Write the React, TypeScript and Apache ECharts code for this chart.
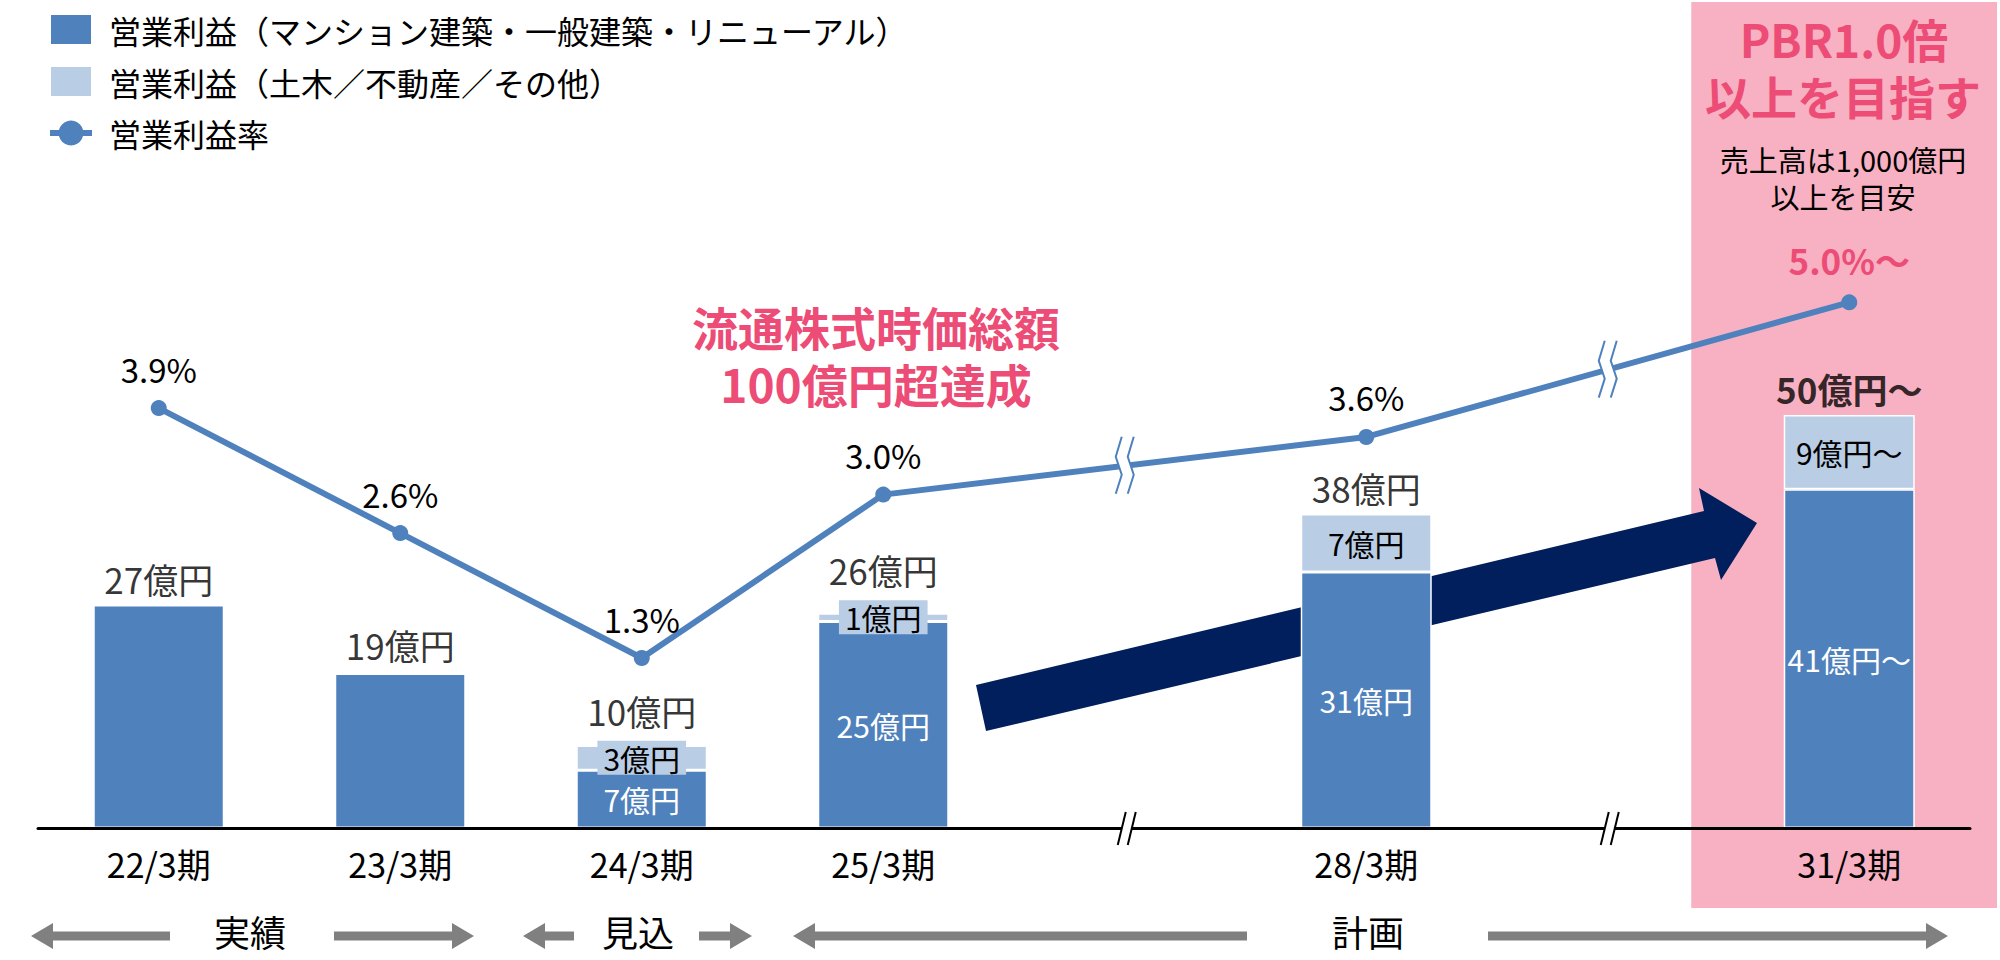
import React, { useEffect, useRef } from 'react';
import * as echarts from 'echarts';

// ---- data ----
const categories = ['22/3期', '23/3期', '24/3期', '25/3期', '', '28/3期', '', '31/3期'];
const profitMain: (number | null)[] = [27, 18.7, 7, 25, null, 31, null, 41];
const profitOther: (number | null)[] = [null, 0.3, 3, 1, null, 7, null, 9];
const marginRate: (number | null)[] = [3.9, 2.6, 1.3, 3.0, null, 3.6, null, 5.0];
const showMainLabel = [false, false, true, true, false, true, false, true];
const targetFlag = [false, false, false, false, false, false, false, true];
const seriesNames = [
  '営業利益（マンション建築・一般建築・リニューアル）',
  '営業利益（土木／不動産／その他）',
  '営業利益率',
];
const periodGroups = ['実績', '見込', '計画'];
const annotationMain = ['流通株式時価総額', '100億円超達成'];
const targetTitle = ['PBR1.0倍', '以上を目指す'];
const targetNote = ['売上高は1,000億円', '以上を目安'];

// ---- styles ----
const FONT = '"Noto Sans CJK JP", "Noto Sans", sans-serif';
const DARK = '#4F81BD';
const LIGHT = '#B9CDE5';
const NAVY = '#001F5C';
const PINK_BG = '#F8B1C2';
const PINK_TXT = '#EC4C75';
const GRAY = '#808080';
const TXT = '#000';

const totals = profitMain.map((v, i) =>
  v == null ? null : Math.round((v + (profitOther[i] ?? 0)) * 10) / 10
);
const suffix = (i: number) => (targetFlag[i] ? '〜' : '');
const totalDistance = [9, 9, 17, 26, 9, 9, 9, 9];

export default function App() {
  const ref = useRef<HTMLDivElement>(null);

  useEffect(() => {
    if (!ref.current) return;
    const chart = echarts.init(ref.current, undefined, { renderer: 'svg' });

    const option: any = {
      animation: false,
      textStyle: { fontFamily: FONT },
      legend: {
        orient: 'vertical',
        left: 47,
        top: 13,
        padding: 0,
        itemWidth: 42,
        itemHeight: 31,
        itemGap: 19,
        lineStyle: { width: 6 },
        data: [
          { name: seriesNames[0], icon: 'rect' },
          { name: seriesNames[1], icon: 'rect' },
          { name: seriesNames[2] },
        ],
        textStyle: { fontSize: 32, color: TXT, fontFamily: FONT, padding: [0, 0, 0, 12] },
      },
      grid: [
        { left: 38, right: 30, top: 2, bottom: 132, outerBoundsMode: 'none' },
        { left: 38, right: 30, top: 14, bottom: 177, outerBoundsMode: 'none' },
      ],
      xAxis: [
        {
          type: 'category',
          gridIndex: 0,
          data: categories,
          z: 3,
          axisLine: { lineStyle: { color: '#000', width: 3 } },
          axisTick: { show: false },
          splitLine: { show: false },
          axisLabel: { interval: 0, fontSize: 34, color: TXT, margin: 18, fontFamily: FONT },
        },
        { type: 'category', gridIndex: 1, data: categories, show: false },
      ],
      yAxis: [
        { type: 'value', gridIndex: 0, min: 0, max: 100, show: false, splitLine: { show: false } },
        { type: 'value', gridIndex: 1, min: 0, max: 8, show: false, splitLine: { show: false } },
      ],
      series: [
        {
          name: seriesNames[0],
          type: 'bar',
          stack: 'profit',
          xAxisIndex: 0,
          yAxisIndex: 0,
          barWidth: 131,
          z: 2,
          itemStyle: { color: DARK, borderColor: '#fff', borderWidth: 1.5 },
          label: {
            position: 'inside',
            color: '#fff',
            fontSize: 30,
            fontFamily: FONT,
            formatter: (p: any) => `${p.value}億円${suffix(p.dataIndex)}`,
          },
          data: profitMain.map((v, i) => ({ value: v, label: { show: showMainLabel[i] } })),
        },
        {
          name: seriesNames[1],
          type: 'bar',
          stack: 'profit',
          xAxisIndex: 0,
          yAxisIndex: 0,
          barWidth: 131,
          z: 2,
          itemStyle: { color: LIGHT, borderColor: '#fff', borderWidth: 1.5 },
          label: {
            position: 'inside',
            color: TXT,
            fontSize: 30,
            fontFamily: FONT,
            backgroundColor: LIGHT,
            padding: [2, 6],
            formatter: (p: any) => `${p.value}億円${suffix(p.dataIndex)}`,
          },
          data: profitOther.map((v) => ({ value: v, label: { show: v != null && v >= 1 } })),
        },
        {
          name: 'total',
          type: 'scatter',
          xAxisIndex: 0,
          yAxisIndex: 0,
          symbolSize: 0,
          silent: true,
          z: 4,
          label: {
            show: true,
            position: 'top',
            distance: 9,
            fontSize: 35,
            color: TXT,
            fontFamily: FONT,
            formatter: (p: any) => `${Math.round(p.value)}億円${suffix(p.dataIndex)}`,
          },
          data: totals.map((v, i) => ({
            value: v,
            label: targetFlag[i]
              ? { fontWeight: 'bold', fontSize: 35, distance: totalDistance[i] }
              : { distance: totalDistance[i] },
          })),
        },
        {
          name: seriesNames[2],
          type: 'line',
          xAxisIndex: 1,
          yAxisIndex: 1,
          connectNulls: true,
          symbol: 'circle',
          symbolSize: 16,
          z: 5,
          lineStyle: { color: DARK, width: 6 },
          itemStyle: { color: DARK },
          label: {
            show: true,
            position: 'top',
            distance: 15,
            fontSize: 33,
            color: TXT,
            fontFamily: FONT,
            formatter: (p: any) => `${Number(p.value).toFixed(1)}%${suffix(p.dataIndex)}`,
          },
          data: marginRate.map((v, i) => ({
            value: v,
            label: targetFlag[i]
              ? { color: PINK_TXT, fontWeight: 'bold', fontSize: 35, distance: 17 }
              : {},
          })),
        },
      ],
    };

    chart.setOption(option);

    // ---- decorations positioned from the chart's own scales ----
    const lineSeriesIndex = 3;
    const pt = (i: number) =>
      chart.convertToPixel({ seriesIndex: lineSeriesIndex }, [i, marginRate[i] as number]) as number[];
    const catX = (i: number) => chart.convertToPixel({ xAxisIndex: 0 }, i) as number;
    const axisY = chart.convertToPixel({ yAxisIndex: 0 }, 0) as number;

    const graphics: any[] = [];

    // pink target panel
    const panelLeft = catX(7) - 158;
    graphics.push({
      type: 'rect',
      z: 0,
      silent: true,
      shape: { x: panelLeft, y: 2, width: 2000 - 3 - panelLeft, height: 906 },
      style: { fill: PINK_BG },
    });

    // navy growth arrow
    graphics.push({
      type: 'polygon',
      z: 1,
      silent: true,
      shape: {
        points: [
          [976, 685],
          [1704, 511],
          [1699, 488],
          [1757, 523],
          [1721, 580],
          [1715, 558],
          [986, 731],
        ],
      },
      style: { fill: NAVY },
    });

    // line breaks
    const lineBreak = (cx: number, cy: number) => {
      const ys = [-29, -9, 9, 28];
      const lx = [-3, -9, -3, -9];
      const rx = [9, 3, 9, 3];
      const L = ys.map((y, k) => [cx + lx[k], cy + y]);
      const R = ys.map((y, k) => [cx + rx[k], cy + y]);
      graphics.push({
        type: 'polygon',
        z: 10,
        silent: true,
        shape: { points: [...L, ...R.slice().reverse()] },
        style: { fill: '#fff' },
      });
      graphics.push({ type: 'polyline', z: 11, silent: true, shape: { points: L }, style: { stroke: DARK, lineWidth: 2, fill: null } });
      graphics.push({ type: 'polyline', z: 11, silent: true, shape: { points: R }, style: { stroke: DARK, lineWidth: 2, fill: null } });
    };
    const p3 = pt(3), p5 = pt(5), p7 = pt(7);
    lineBreak((p3[0] + p5[0]) / 2, (p3[1] + p5[1]) / 2);
    lineBreak((p5[0] + p7[0]) / 2, (p5[1] + p7[1]) / 2);

    // axis breaks
    const axisBreak = (cx: number) => {
      const cy = axisY;
      graphics.push({
        type: 'polygon',
        z: 10,
        silent: true,
        shape: { points: [[cx - 1, cy - 16], [cx + 9, cy - 16], [cx + 1, cy + 17], [cx - 9, cy + 17]] },
        style: { fill: '#fff' },
      });
      graphics.push({ type: 'line', z: 11, silent: true, shape: { x1: cx - 1, y1: cy - 16, x2: cx - 9, y2: cy + 17 }, style: { stroke: '#000', lineWidth: 2 } });
      graphics.push({ type: 'line', z: 11, silent: true, shape: { x1: cx + 9, y1: cy - 16, x2: cx + 1, y2: cy + 17 }, style: { stroke: '#000', lineWidth: 2 } });
    };
    axisBreak(catX(4) + 2);
    axisBreak(catX(6) + 2);

    // texts
    const txt = (x: number, y: number, text: string, size: number, fill: string, weight: string) => ({
      type: 'text',
      z: 12,
      silent: true,
      x,
      y,
      style: {
        text,
        fill,
        fontSize: size,
        fontWeight: weight,
        fontFamily: FONT,
        align: 'center',
        verticalAlign: 'middle',
        textAlign: 'center',
        textVerticalAlign: 'middle',
      },
    });
    graphics.push(txt(876, 326, annotationMain[0], 46, PINK_TXT, 'bold'));
    graphics.push(txt(876, 383, annotationMain[1], 46, PINK_TXT, 'bold'));
    graphics.push(txt(1844, 38, targetTitle[0], 46, PINK_TXT, 'bold'));
    graphics.push(txt(1843, 95, targetTitle[1], 46, PINK_TXT, 'bold'));
    graphics.push(txt(1843, 159, targetNote[0], 29, TXT, 'normal'));
    graphics.push(txt(1843, 196, targetNote[1], 29, TXT, 'normal'));

    // period arrows
    const by = 936;
    const arrow = (tip: number, end: number) => {
      const dir = tip < end ? 1 : -1;
      const hl = 22 * dir, hh = 13, sh = 4.5;
      graphics.push({
        type: 'polygon',
        z: 1,
        silent: true,
        shape: {
          points: [
            [tip, by],
            [tip + hl, by - hh],
            [tip + hl, by - sh],
            [end, by - sh],
            [end, by + sh],
            [tip + hl, by + sh],
            [tip + hl, by + hh],
          ],
        },
        style: { fill: GRAY },
      });
    };
    arrow(31, 170);
    arrow(474, 334);
    arrow(523, 574);
    arrow(752, 699);
    arrow(793, 1247);
    arrow(1948, 1488);
    graphics.push(txt(250, 931, periodGroups[0], 36, TXT, 'normal'));
    graphics.push(txt(638, 931, periodGroups[1], 36, TXT, 'normal'));
    graphics.push(txt(1368, 931, periodGroups[2], 36, TXT, 'normal'));

    chart.setOption({ graphic: { elements: graphics } });

    return () => chart.dispose();
  }, []);

  return (
    <div
      ref={ref}
      style={{ position: 'fixed', left: 0, top: 0, width: 2000, height: 960, background: '#fff' }}
    />
  );
}
